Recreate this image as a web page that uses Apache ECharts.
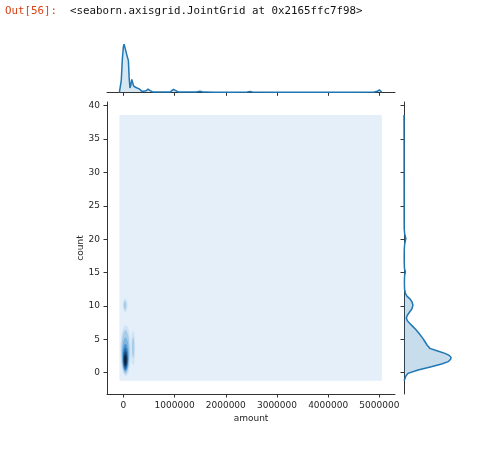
<!DOCTYPE html>
<html><head><meta charset="utf-8">
<script src="https://cdn.jsdelivr.net/npm/echarts@6/dist/echarts.min.js"></script>
<style>html,body{margin:0;padding:0;background:#fff}#c{width:491px;height:472px}</style>
</head><body><div id="c"></div><script>
// ---- axes / ticks ----
const xTicks = [0, 1000000, 2000000, 3000000, 4000000, 5000000];
const yTicks = [0, 5, 10, 15, 20, 25, 30, 35, 40];
const xRange = [-320000, 5305000];
const yRange = [-3.19, 40.55];

// ---- joint KDE: lowest filled level extent ----
const kdeX = [-78000, 5047000];
const kdeY = [-1.2, 38.6];

// ---- joint KDE contour blobs (center, half-widths, level) ----
const blobX     = [46000, 36000, 190000, 41000, 31000, 190000, 41000, 39000, 39000, 39000, 39000];
const blobY     = [3.3,   10.1,  3.7,    3.1,   10.1,  3.8,    2.7,   2.3,   2.1,   2.0,   1.9];
const blobRX    = [102000, 46000, 39000, 82000, 26000, 23000,  67000, 56000, 46000, 36000, 23000];
const blobRY    = [3.8,   1.0,   2.6,    3.3,   0.6,   1.5,    2.6,   2.0,   1.6,   1.2,   0.8];
const blobLevel = [0,     0,     0,      1,     1,     1,      2,     3,     4,     5,     6];
const levelColors = ['#cfe3f4', '#a9cde9', '#7fb4df', '#4a93cf', '#2a6fae', '#174b7a', '#0c2238'];

// ---- top marginal KDE of amount ----
const amountGrid = [-78000, -62000, -41000, -20000, 0, 14000, 31000, 62000, 98000, 113000, 128000, 144000,
  164000, 184000, 200000, 220000, 246000, 277000, 308000, 339000, 370000, 400000, 441000, 482000, 523000,
  564000, 616000, 718000, 820000, 920000, 950000, 977000, 1005000, 1070000, 1200000, 1420000, 1500000,
  1560000, 1800000, 2100000, 2420000, 2470000, 2520000, 3000000, 3500000, 4000000, 4500000, 4900000,
  4960000, 5000000, 5047000];
const amountDensity = [0, 0.04, 0.25, 0.7, 0.95, 1.0, 0.93, 0.8, 0.66, 0.3, 0.09, 0.14,
  0.27, 0.28, 0.13, 0.1, 0.1, 0.09, 0.07, 0.04, 0.015, 0.01, 0.03, 0.065, 0.035,
  0.012, 0.006, 0.005, 0.005, 0.008, 0.03, 0.06, 0.035, 0.008, 0.005, 0.004, 0.02,
  0.004, 0.003, 0.003, 0.004, 0.015, 0.004, 0.003, 0.002, 0.002, 0.003, 0.006,
  0.02, 0.05, 0];

// ---- right marginal KDE of count ----
const countGrid = [-1.2, -1.0, -0.5, -0.1, 0.4, 0.9, 1.3, 1.65, 2.0, 2.3, 2.6, 2.9, 3.3, 3.65, 4.15, 4.6,
  5.15, 5.8, 6.4, 6.9, 7.4, 7.8, 8.15, 8.6, 9.1, 9.6, 10.15, 10.6, 11.1, 11.5, 11.9, 12.5, 13.5, 14.5,
  15.1, 15.6, 16.5, 17.5, 18.5, 19.3, 20.1, 20.8, 21.5, 23, 26, 30, 34, 38.6];
const countDensity = [0, 0.015, 0.04, 0.085, 0.3, 0.58, 0.8, 0.94, 0.99, 1.0, 0.96, 0.87, 0.7, 0.55, 0.49, 0.45,
  0.4, 0.33, 0.26, 0.19, 0.12, 0.07, 0.05, 0.07, 0.12, 0.17, 0.19, 0.17, 0.12, 0.06, 0.03, 0.012, 0.008, 0.012,
  0.03, 0.01, 0.005, 0.004, 0.006, 0.015, 0.04, 0.015, 0.005, 0.003, 0.003, 0.002, 0.002, 0];

const C0 = '#1f77b4';
const FILL = 'rgba(31,119,180,0.25)';
const AX = '#333333';
const FONT = 'DejaVu Sans';

function ellipsePts(cx, cy, rx, ry) {
  const pts = [];
  for (let k = 0; k < 48; k++) {
    const a = k / 48 * Math.PI * 2;
    pts.push([cx + rx * Math.cos(a), cy + ry * Math.sin(a)]);
  }
  return pts;
}

const chart = echarts.init(document.getElementById('c'), null, {renderer: 'canvas'});
chart.setOption({
  animation: false,
  backgroundColor: '#fff',
  graphic: [
    {type: 'text', left: 5, top: 6, style: {text: 'Out[56]:', fill: '#d84315', font: '10.8px "DejaVu Sans Mono"'}},
    {type: 'text', left: 70, top: 6, style: {text: '<seaborn.axisgrid.JointGrid at 0x2165ffc7f98>', fill: '#111', font: '10.8px "DejaVu Sans Mono"'}}
  ],
  grid: [
    {left: 107, top: 102, width: 288, height: 292},
    {left: 107, top: 41.9, width: 288, height: 50.4},
    {left: 404, top: 102, width: 49.4, height: 292}
  ],
  xAxis: [
    {gridIndex: 0, type: 'value', min: xRange[0], max: xRange[1],
     name: 'amount', nameLocation: 'middle', nameGap: 20, nameMoveOverlap: false,
     nameTextStyle: {fontFamily: FONT, fontSize: 9, color: '#262626'},
     axisLine: {show: true, onZero: false, lineStyle: {color: AX, width: 1}},
     axisTick: {show: true, length: 3.5, customValues: xTicks, lineStyle: {color: AX}},
     axisLabel: {show: true, customValues: xTicks, margin: 7, fontFamily: FONT, fontSize: 9, color: '#262626',
       formatter: v => String(v)},
     splitLine: {show: false}},
    {gridIndex: 1, type: 'value', min: xRange[0], max: xRange[1],
     axisLine: {show: true, onZero: false, lineStyle: {color: AX, width: 1}},
     axisTick: {show: true, length: 3.5, customValues: xTicks, lineStyle: {color: AX}},
     axisLabel: {show: false}, splitLine: {show: false}},
    {gridIndex: 2, type: 'value', min: 0, max: 1.05, show: false, splitLine: {show: false}}
  ],
  yAxis: [
    {gridIndex: 0, type: 'value', min: yRange[0], max: yRange[1],
     name: 'count', nameLocation: 'middle', nameGap: 22, nameMoveOverlap: false,
     nameTextStyle: {fontFamily: FONT, fontSize: 9, color: '#262626'},
     axisLine: {show: true, onZero: false, lineStyle: {color: AX, width: 1}},
     axisTick: {show: true, length: 3.5, customValues: yTicks, lineStyle: {color: AX}},
     axisLabel: {show: true, customValues: yTicks, margin: 7, fontFamily: FONT, fontSize: 9, color: '#262626'},
     splitLine: {show: false}},
    {gridIndex: 1, type: 'value', min: 0, max: 1.05, show: false, splitLine: {show: false}},
    {gridIndex: 2, type: 'value', min: yRange[0], max: yRange[1],
     axisLine: {show: true, onZero: false, lineStyle: {color: AX, width: 1}},
     axisTick: {show: true, length: 3.5, customValues: yTicks, lineStyle: {color: AX}},
     axisLabel: {show: false}, splitLine: {show: false}}
  ],
  series: [
    {type: 'custom', xAxisIndex: 0, yAxisIndex: 0, clip: true, silent: true,
     data: [[kdeX[0], kdeY[0], kdeX[1], kdeY[1]]],
     renderItem: (params, api) => {
       const p0 = api.coord([api.value(0), api.value(3)]);
       const p1 = api.coord([api.value(2), api.value(1)]);
       return {type: 'rect', shape: {x: p0[0], y: p0[1], width: p1[0] - p0[0], height: p1[1] - p0[1]},
               style: {fill: '#e4eff9'}};
     }},
    {type: 'custom', xAxisIndex: 0, yAxisIndex: 0, clip: true, silent: true,
     data: blobX.map((x, i) => [x, blobY[i], blobRX[i], blobRY[i], blobLevel[i]]),
     renderItem: (params, api) => {
       const pts = ellipsePts(api.value(0), api.value(1), api.value(2), api.value(3)).map(p => api.coord(p));
       return {type: 'polygon', shape: {points: pts, smooth: 0}, style: {fill: levelColors[api.value(4)]}};
     }},
    {type: 'line', xAxisIndex: 1, yAxisIndex: 1, silent: true, symbol: 'none',
     data: amountGrid.map((x, i) => [x, amountDensity[i]]),
     lineStyle: {color: C0, width: 1.5}, areaStyle: {color: FILL}, z: 3},
    {type: 'custom', xAxisIndex: 2, yAxisIndex: 2, silent: true, z: 3,
     data: countGrid.map((c, i) => [countDensity[i], c]),
     renderItem: (params, api) => {
       if (params.dataIndex !== 0) return null;
       const line = countGrid.map((c, i) => api.coord([countDensity[i], c]));
       const base0 = api.coord([0, countGrid[0]]);
       const base1 = api.coord([0, countGrid[countGrid.length - 1]]);
       const poly = [base0].concat(line, [base1]);
       return {type: 'group', children: [
         {type: 'polygon', shape: {points: poly}, style: {fill: FILL}},
         {type: 'polyline', shape: {points: line}, style: {stroke: C0, lineWidth: 1.5, fill: null}}
       ]};
     }}
  ]
});
</script></body></html>
